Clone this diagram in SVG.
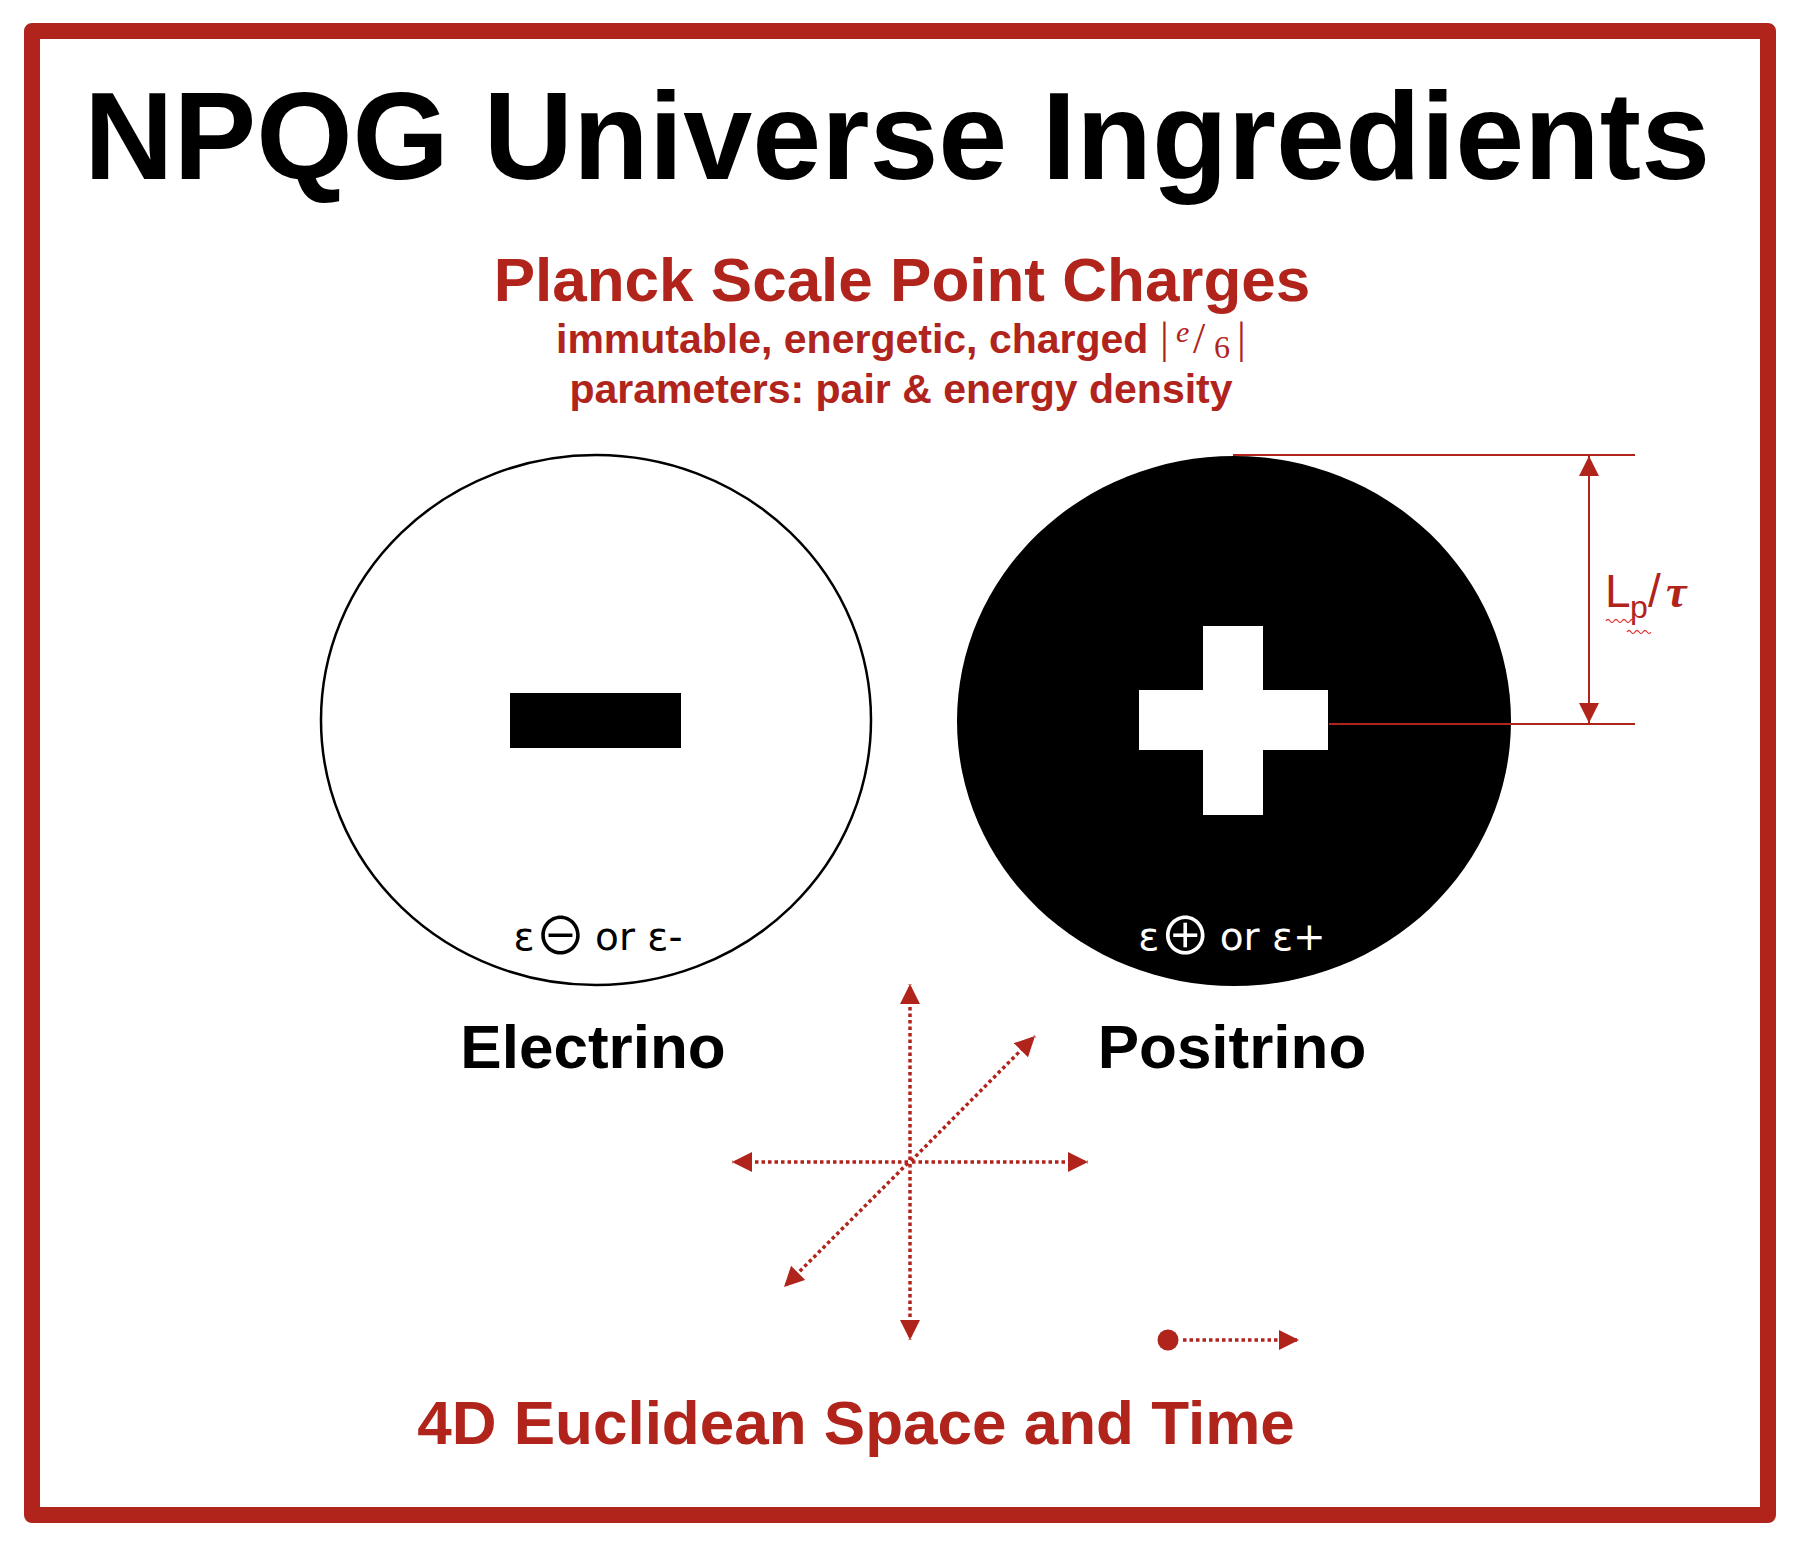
<svg xmlns="http://www.w3.org/2000/svg" width="1804" height="1550" viewBox="0 0 1804 1550">
<style>
.red{fill:#B0241C}
.sans{font-family:"Liberation Sans",Arial,sans-serif;font-weight:bold}
.serif{font-family:"Liberation Serif","Times New Roman",serif}
.sym{font-family:"DejaVu Sans","Noto Sans",sans-serif;font-size:39px}
.big{font-family:"Noto Sans CJK JP","DejaVu Sans",sans-serif;font-size:52px}
.dim{stroke:#B0241C;stroke-width:2;fill:none}
.axis{stroke:#B0241C;stroke-width:3.5;stroke-dasharray:3.5 3;fill:none}
</style>
<defs>
<marker id="ah" viewBox="0 0 20 20" refX="20" refY="10" markerWidth="20" markerHeight="20" markerUnits="userSpaceOnUse" orient="auto-start-reverse">
<path d="M0,0 L20,10 L0,20 Z" fill="#B0241C"/>
</marker>
</defs>
<rect x="0" y="0" width="1804" height="1550" fill="#fff"/>
<rect id="frame" x="32" y="31" width="1736" height="1484" fill="none" stroke="#B0241C" stroke-width="16" stroke-linejoin="round"/>
<text id="title" x="897" y="179" text-anchor="middle" class="sans" font-size="124" fill="#000">NPQG Universe Ingredients</text>
<g id="heading">
<text x="902" y="301" text-anchor="middle" class="sans red" font-size="62">Planck Scale Point Charges</text>
<text x="556" y="353" class="sans red" font-size="41">immutable, energetic, charged <tspan class="serif" font-weight="normal" font-size="44" x="1160" y="353">|</tspan><tspan class="serif" font-weight="normal" font-size="30" font-style="italic" x="1176" y="342">e</tspan><tspan class="serif" font-weight="normal" font-size="44" x="1193" y="353">/</tspan><tspan class="serif" font-weight="normal" font-size="32" x="1214" y="358">6</tspan><tspan class="serif" font-weight="normal" font-size="44" x="1237" y="353">|</tspan></text>
<text x="901" y="403" text-anchor="middle" class="sans red" font-size="41">parameters: pair &amp; energy density</text>
</g>
<g id="electrino">
<ellipse cx="596" cy="720" rx="275" ry="265" fill="#fff" stroke="#000" stroke-width="2.5"/>
<rect x="510" y="693" width="171" height="55" fill="#000"/>
<text x="598" y="950" text-anchor="middle" class="sym" fill="#000">ε<tspan class="big" dy="5">⊖</tspan><tspan dx="-4" dy="-5"> or ε-</tspan></text>
<text x="593" y="1068" text-anchor="middle" class="sans" font-size="62" fill="#000">Electrino</text>
</g>
<g id="positrino">
<ellipse cx="1234" cy="721" rx="277" ry="265" fill="#000"/>
<rect x="1203" y="626" width="60" height="189" fill="#fff"/>
<rect x="1139" y="690" width="189" height="60" fill="#fff"/>
<text x="1232" y="950" text-anchor="middle" class="sym" fill="#fff">ε<tspan class="big" dy="5">⊕</tspan><tspan dx="-4" dy="-5"> or ε+</tspan></text>
<text x="1232" y="1068" text-anchor="middle" class="sans" font-size="62" fill="#000">Positrino</text>
</g>
<g id="dimension">
<line class="dim" x1="1233" y1="455" x2="1635" y2="455"/>
<line class="dim" x1="1329" y1="724" x2="1635" y2="724"/>
<line class="dim" x1="1589" y1="456" x2="1589" y2="723" marker-start="url(#ah)" marker-end="url(#ah)"/>
<text x="1605" y="607" class="red" font-family="'Liberation Sans',Arial,sans-serif" font-size="46">L<tspan font-size="32" x="1630" y="618">p</tspan><tspan x="1648" y="607">/</tspan><tspan class="serif" font-style="italic" font-weight="bold" x="1666" y="607">τ</tspan></text>
<path d="M1606,621 q2,-3 4,0 t4,0 t4,0 t4,0 t4,0 t4,0 t4,0 M1627,632 q2,-3 4,0 t4,0 t4,0 t4,0 t4,0 t4,0" stroke="#E03A3A" stroke-width="1.3" fill="none"/>
</g>
<g id="connectors">
<line class="axis" x1="910" y1="1160" x2="910" y2="984" marker-end="url(#ah)"/>
<line class="axis" x1="910" y1="1164" x2="910" y2="1340" marker-end="url(#ah)"/>
<line class="axis" x1="908" y1="1162" x2="732" y2="1162" marker-end="url(#ah)"/>
<line class="axis" x1="912" y1="1162" x2="1088" y2="1162" marker-end="url(#ah)"/>
<line class="axis" x1="911" y1="1161" x2="1035" y2="1036" marker-end="url(#ah)"/>
<line class="axis" x1="908" y1="1163" x2="784" y2="1287" marker-end="url(#ah)"/>
<circle cx="1168" cy="1340" r="10.5" fill="#B0241C"/>
<line class="axis" x1="1183" y1="1340" x2="1299" y2="1340" marker-end="url(#ah)"/>
</g>
<text id="footer" x="856" y="1444" text-anchor="middle" class="sans red" font-size="62">4D Euclidean Space and Time</text>
</svg>
